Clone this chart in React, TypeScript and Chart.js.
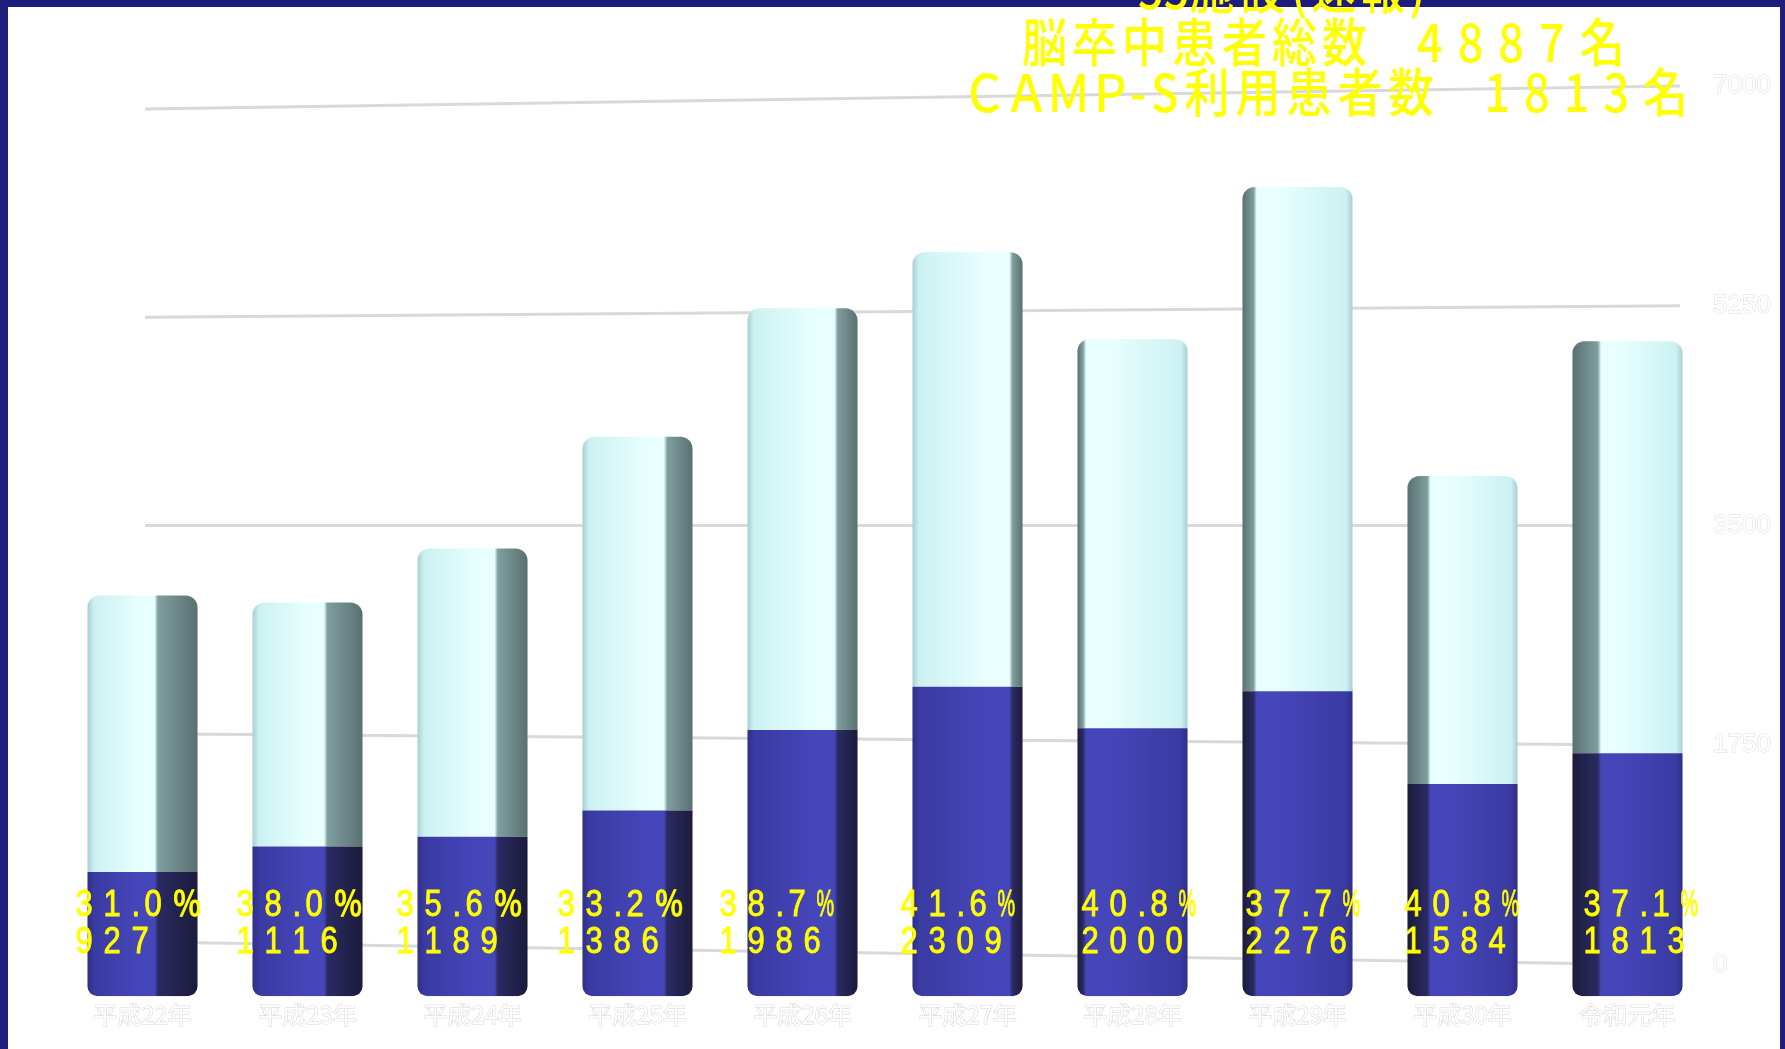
import React, { useEffect, useRef } from 'react';
import { Chart, registerables } from 'chart.js';

Chart.register(...registerables);

// ---- data ----
const categories = ['平成22年', '平成23年', '平成24年', '平成25年', '平成26年', '平成27年', '平成28年', '平成29年', '平成30年', '令和元年'];
const campUsers = [927, 1116, 1189, 1386, 1986, 2309, 2000, 2276, 1584, 1813];
const otherPatients = [2063, 1821, 2151, 2789, 3146, 3241, 2902, 3761, 2298, 3074];
const pctLabels = ['31.0％', '38.0％', '35.6％', '33.2％', '38.7%', '41.6%', '40.8%', '37.7%', '40.8%', '37.1%'];
const yTicks = [0, 1750, 3500, 5250, 7000];
const titleLine1 = ['55', '施設', '(速報)'];
const titleLine2 = ['脳卒中患者総数', '　', '4887', '名'];
const titleLine3 = ['ＣＡＭＰ', '-S', '利用患者数', '　', '1813', '名'];

// ---- styles ----
const BAR_PCT = 0.667;
const sideFrac = [0.36, 0.32, 0.27, 0.23, 0.18, 0.09, 0.05, 0.1, 0.18, 0.23];
const sideDir = [1, 1, 1, 1, 1, 1, -1, -1, -1, -1];
const labelOffsets = [-67, -71, -76, -80, -83, -67, -51, -52, -58, -44];
const LIGHT = { edge: '#a8cfd0', mid: '#ccf1f2', bright: '#e8ffff', sideNear: '#809e9f', sideFar: '#5a7071' };
const BLUE = { edge: '#2e2e86', mid: '#3a3aa2', bright: '#4646bb', sideNear: '#2a2a62', sideFar: '#1b1b3c' };

function makeFill(pal: any) {
  return (c: any) => {
    const chart = c.chart;
    const area = chart.chartArea;
    if (!area || c.dataIndex == null || !chart.scales.x) return pal.mid;
    const xs = chart.scales.x;
    const center = xs.getPixelForValue(c.dataIndex);
    const half = (xs.width / categories.length) * BAR_PCT / 2;
    const x0 = center - half;
    const x1 = center + half;
    const dir = sideDir[c.dataIndex];
    const f = sideFrac[c.dataIndex];
    const g = dir > 0
      ? chart.ctx.createLinearGradient(x0, 0, x1, 0)
      : chart.ctx.createLinearGradient(x1, 0, x0, 0);
    const b = 1 - f;
    g.addColorStop(0, pal.edge);
    g.addColorStop(0.06, pal.mid);
    g.addColorStop(b * 0.75, pal.bright);
    g.addColorStop(Math.max(b - 0.03, b * 0.75), pal.bright);
    g.addColorStop(b, pal.sideNear);
    g.addColorStop(1, pal.sideFar);
    return g;
  };
}

const GRID_TILT = 11.5;

const overlayPlugin = {
  id: 'overlay',
  beforeDatasetsDraw(chart: any) {
    const { ctx, chartArea } = chart;
    const s = chart.scales.y2;
    const mid = (yTicks[0] + yTicks[yTicks.length - 1]) / 2;
    const xL = chartArea.left + 85;
    const xR = chartArea.right - 30;
    ctx.save();
    ctx.strokeStyle = '#d9d9d9';
    ctx.lineWidth = 3;
    yTicks.forEach((v) => {
      const yc = s.getPixelForValue(v);
      const t = GRID_TILT * (mid - v) / mid;
      ctx.beginPath();
      ctx.moveTo(xL, yc - t);
      ctx.lineTo(xR, yc + t);
      ctx.stroke();
    });
    ctx.font = '26px "Liberation Sans"';
    ctx.textBaseline = 'middle';
    ctx.textAlign = 'left';
    ctx.lineWidth = 1;
    ctx.strokeStyle = '#dcdcdc';
    ctx.fillStyle = '#ffffff';
    yTicks.forEach((v) => {
      const yc = s.getPixelForValue(v);
      const t = GRID_TILT * (mid - v) / mid;
      ctx.strokeText(String(v), chartArea.right + 3, yc + t);
      ctx.fillText(String(v), chartArea.right + 3, yc + t);
    });
    ctx.restore();
  },
  afterDatasetsDraw(chart: any) {
    const { ctx } = chart;
    const meta = chart.getDatasetMeta(0);
    const base = chart.scales.y.getPixelForValue(0);
    ctx.save();
    ctx.fillStyle = '#ffff00';
    ctx.strokeStyle = '#ffff00';
    ctx.lineWidth = 0.9;
    ctx.textBaseline = 'alphabetic';
    const drawSpaced = (text: string, x: number, y: number) => {
      let cx = x;
      for (const ch of text) {
        ctx.save();
        ctx.translate(cx, y);
        if (ch === '%') ctx.scale(0.55, 1);
        else ctx.scale(0.86, 1);
        ctx.font = ch === '％' ? '500 34px "Noto Sans CJK JP"' : '36px "Liberation Sans"';
        ctx.fillText(ch, 0, 0);
        ctx.strokeText(ch, 0, 0);
        ctx.restore();
        cx += ch === '.' ? 13 : 28;
      }
    };
    meta.data.forEach((bar: any, i: number) => {
      const x = bar.x + labelOffsets[i];
      drawSpaced(pctLabels[i], x, base - 80);
      drawSpaced(String(campUsers[i]), x, base - 43);
    });
    ctx.restore();
  },
};

const titleStyle: any = {
  position: 'absolute',
  color: '#ffff00',
  fontFamily: '"Noto Sans CJK JP"',
  fontWeight: 500,
  fontSize: 45,
  lineHeight: '45px',
  whiteSpace: 'pre',
  transform: 'scaleY(1.15)',
  transformOrigin: 'left center',
};

const line1Spacing = [0, 6, 4];
const line2Spacing = [5, 0, 15, 0];
const line3Spacing = [-3, 6, 6, 0, 14, 0];

export default function App() {
  const canvasRef = useRef<HTMLCanvasElement | null>(null);

  useEffect(() => {
    const canvas = canvasRef.current;
    if (!canvas) return;
    const chart = new Chart(canvas, {
      type: 'bar',
      data: {
        labels: categories,
        datasets: [
          {
            label: 'CAMP-S利用患者数',
            data: campUsers,
            backgroundColor: makeFill(BLUE) as any,
            borderRadius: { topLeft: 0, topRight: 0, bottomLeft: 10, bottomRight: 10 },
            borderSkipped: false,
            stack: 's',
            yAxisID: 'y',
          },
          {
            label: '脳卒中患者（その他）',
            data: otherPatients,
            backgroundColor: makeFill(LIGHT) as any,
            borderRadius: { topLeft: 12, topRight: 12, bottomLeft: 0, bottomRight: 0 },
            borderSkipped: false,
            stack: 's',
            yAxisID: 'y',
          },
        ],
      },
      options: {
        animation: false,
        responsive: false,
        layout: { padding: { left: 60, right: 75, top: 58, bottom: 16 } },
        datasets: { bar: { barPercentage: BAR_PCT, categoryPercentage: 1 } },
        plugins: {
          legend: { display: false },
          tooltip: { enabled: false },
          title: { display: false },
        },
        scales: {
          x: {
            stacked: true,
            grid: { display: false, drawTicks: false },
            border: { display: false },
            ticks: {
              color: '#ffffff',
              textStrokeColor: '#d4d4d4',
              textStrokeWidth: 1,
              padding: 4,
              maxRotation: 0,
              autoSkip: false,
              font: { family: '"Noto Sans CJK JP"', size: 24 },
            },
          },
          y: { stacked: true, display: false, min: 0, max: 7000 },
          y2: { display: false, min: -350, max: 7322 },
        },
      },
      plugins: [overlayPlugin],
    });
    return () => chart.destroy();
  }, []);

  const renderLine = (segs: string[], spacing: number[]) =>
    segs.map((s, i) => (
      <span key={i} style={{ letterSpacing: spacing[i] }}>{s}</span>
    ));

  return (
    <div style={{ position: 'fixed', left: 0, top: 0, width: 1785, height: 1049, background: '#1e1c7c', overflow: 'hidden' }}>
      <div style={{ position: 'absolute', left: 8, top: 7, width: 1772, height: 1042, background: '#ffffff' }} />
      <canvas ref={canvasRef} width={1785} height={1049} style={{ position: 'absolute', left: 0, top: 0, width: 1785, height: 1049 }} />
      <div style={{ ...titleStyle, left: 1138, top: -36 }}>{renderLine(titleLine1, line1Spacing)}</div>
      <div style={{ ...titleStyle, left: 1022, top: 17 }}>{renderLine(titleLine2, line2Spacing)}</div>
      <div style={{ ...titleStyle, left: 962, top: 67 }}>{renderLine(titleLine3, line3Spacing)}</div>
    </div>
  );
}
